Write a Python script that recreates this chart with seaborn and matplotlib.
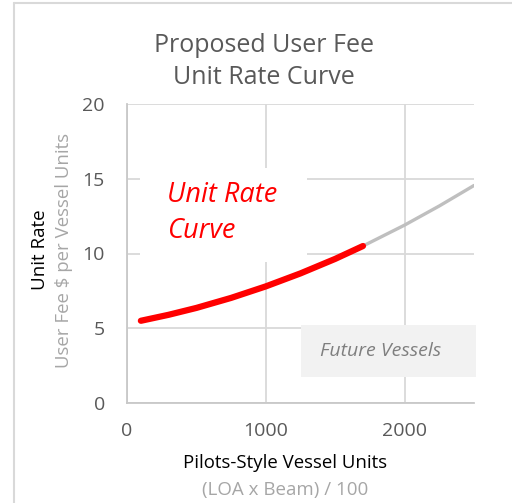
import numpy as np
import pandas as pd
import matplotlib.pyplot as plt
import seaborn as sns
from matplotlib.patches import Rectangle
from matplotlib.lines import Line2D

# valores
units_current = [100, 300, 500, 750, 1000, 1250, 1500, 1700]
rate_current = [5.5, 5.9, 6.36, 7.03, 7.8, 8.67, 9.64, 10.5]
units_future = [1700, 2000, 2250, 2500]
rate_future = [10.5, 11.9, 13.18, 14.55]
x_ticks = [0, 1000, 2000]
y_ticks = [0, 5, 10, 15, 20]

df_cur = pd.DataFrame({'units': units_current, 'rate': rate_current})
df_fut = pd.DataFrame({'units': units_future, 'rate': rate_future})

sns.set_style("white")
plt.rcParams['font.family'] = ['Open Sans', 'DejaVu Sans']

fig = plt.figure(figsize=(5.12, 5.03), dpi=100)
ax = fig.add_axes([127/512, 100/503, 347/512, 299/503])

grid_c = '#d9d9d9'
ax.set_xlim(0, 2500)
ax.set_ylim(0, 20)
ax.set_xticks(x_ticks)
ax.set_yticks(y_ticks)
ax.grid(True, color=grid_c, linewidth=1.3)
ax.set_axisbelow(True)
for s in ['top', 'right']:
    ax.spines[s].set_visible(False)
for s in ['left', 'bottom']:
    ax.spines[s].set_color('#c8c8c8')
    ax.spines[s].set_linewidth(1.3)
ax.tick_params(length=0, labelsize=14, labelcolor='#595959')
ax.tick_params(axis='y', pad=16)
ax.tick_params(axis='x', pad=14)

# caixa branca atrás do texto
ax.add_patch(Rectangle((95, 9.4), 1200, 6.3, facecolor='white', edgecolor='none', zorder=1.5))
# caixa "Future Vessels"
ax.add_patch(Rectangle((1252, 1.75), 1265, 3.45, facecolor='#f2f2f2', edgecolor='none',
                       zorder=1.5, clip_on=False))
ax.text(1830, 3.5, 'Future Vessels', style='italic', color='#7f7f7f', fontsize=14,
        ha='center', va='center', zorder=3)

sns.lineplot(data=df_fut, x='units', y='rate', color='#bfbfbf', linewidth=2.4, ax=ax, zorder=3)
sns.lineplot(data=df_cur, x='units', y='rate', color='#ff0000', linewidth=4.5, ax=ax, zorder=4,
             solid_capstyle='round')
ax.set_xlabel('')
ax.set_ylabel('')

ax.text(290, 12.7, 'Unit Rate\nCurve', style='italic', color='#ff0000', fontsize=19.5,
        ha='left', va='center', linespacing=1.35, zorder=3)

# títulos e rótulos
fig.text(264/512, 1 - 45/503, 'Proposed User Fee', ha='center', va='center', fontsize=18, color='#595959')
fig.text(264/512, 1 - 78/503, 'Unit Rate Curve', ha='center', va='center', fontsize=18, color='#595959')
fig.text(40/512, 1 - 250/503, 'Unit Rate', rotation=90, ha='center', va='center', fontsize=13.5, color='black')
fig.text(64/512, 1 - 250/503, 'User Fee $ per Vessel Units', rotation=90, ha='center', va='center',
         fontsize=13.4, color='#a6a6a6')
fig.text(285/512, 1 - 463/503, 'Pilots-Style Vessel Units', ha='center', va='center', fontsize=13.4, color='black')
fig.text(285/512, 1 - 490/503, '(LOA x Beam) / 100', ha='center', va='center', fontsize=13.5, color='#a6a6a6')

# moldura externa
fig.add_artist(Line2D([14/512, 14/512], [0, 1 - 3/503], transform=fig.transFigure, color='#d9d9d9', linewidth=1.5))
fig.add_artist(Line2D([14/512, 1], [1 - 3/503, 1 - 3/503], transform=fig.transFigure, color='#d9d9d9', linewidth=1.5))

fig.savefig('out.png', dpi=100)
